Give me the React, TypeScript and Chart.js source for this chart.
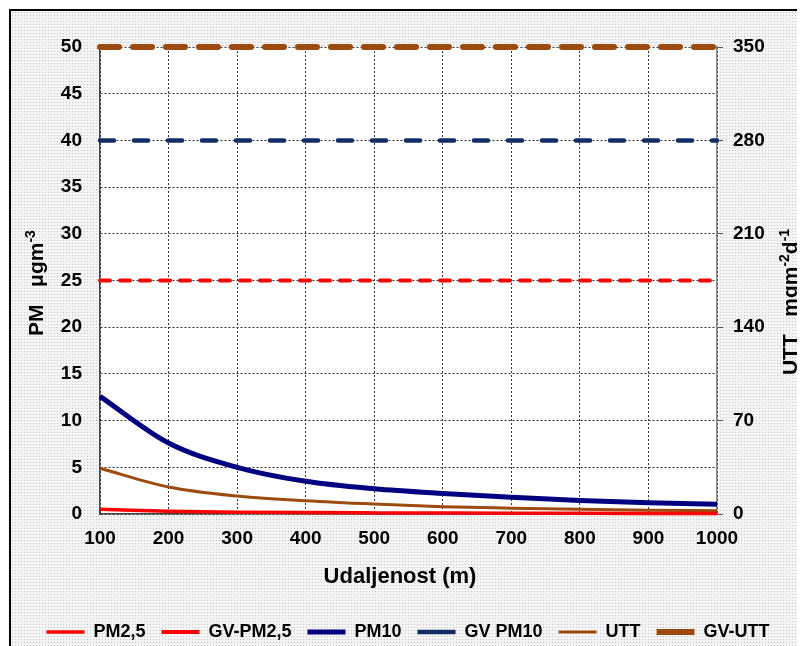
import React, { useEffect, useRef } from 'react';
import { Chart, registerables } from 'chart.js';

Chart.register(...registerables);

// ---- data ----
const distances = [100, 200, 300, 400, 500, 600, 700, 800, 900, 1000];
const pm25 = [0.5, 0.3, 0.2, 0.15, 0.12, 0.1, 0.08, 0.07, 0.06, 0.05];
const pm10 = [12.6, 7.6, 5.0, 3.5, 2.7, 2.2, 1.8, 1.45, 1.2, 1.05];
const utt = [34.3, 20.3, 13.5, 10.0, 7.5, 5.5, 4.4, 3.5, 2.9, 2.5];
const gvPm25 = 25;
const gvPm10 = 40;
const gvUtt = 350;
const seriesLabels = ['PM2,5', 'GV-PM2,5', 'PM10', 'GV PM10', 'UTT', 'GV-UTT'];
const xTitle = 'Udaljenost (m)';
const leftTitle = [{ t: 'PM   \u03bcgm', sup: false }, { t: '-3', sup: true }];
const rightTitle = [
  { t: 'UTT   mgm', sup: false },
  { t: '-2', sup: true },
  { t: 'd', sup: false },
  { t: '-1', sup: true },
];

const RED = '#FF0000';
const NAVY = '#000080';
const DNAVY = '#112C66';
const BROWN = '#9C4A0E';
const FONT = '"Liberation Sans", Arial, sans-serif';

const pts = (ys: number[]) => distances.map((x, i) => ({ x, y: ys[i] }));
const flat = (v: number) => [
  { x: distances[0], y: v },
  { x: distances[distances.length - 1], y: v },
];

function drawRich(ctx: CanvasRenderingContext2D, parts: { t: string; sup: boolean }[], size: number) {
  const main = `bold ${size}px ${FONT}`;
  const sup = `bold ${Math.round(size * 0.65)}px ${FONT}`;
  let total = 0;
  const widths = parts.map((p) => {
    ctx.font = p.sup ? sup : main;
    const w = ctx.measureText(p.t).width;
    total += w;
    return w;
  });
  let x = -total / 2;
  parts.forEach((p, i) => {
    ctx.font = p.sup ? sup : main;
    ctx.fillText(p.t, x, p.sup ? -size * 0.4 : 0);
    x += widths[i];
  });
}

const titlesPlugin = {
  id: 'titles',
  beforeDraw(chart: any) {
    const { ctx, chartArea } = chart;
    ctx.save();
    ctx.fillStyle = '#FFFFFF';
    ctx.fillRect(chartArea.left, chartArea.top, chartArea.right - chartArea.left, chartArea.bottom - chartArea.top);
    ctx.restore();
  },
  afterDraw(chart: any) {
    const { ctx } = chart;
    ctx.save();
    ctx.fillStyle = '#000';
    ctx.textBaseline = 'alphabetic';
    ctx.textAlign = 'left';
    ctx.save();
    ctx.translate(32, 272);
    ctx.rotate(-Math.PI / 2);
    drawRich(ctx, leftTitle, 21);
    ctx.restore();
    ctx.save();
    ctx.translate(786, 291);
    ctx.rotate(-Math.PI / 2);
    drawRich(ctx, rightTitle, 21);
    ctx.restore();
    ctx.font = `bold 22px ${FONT}`;
    ctx.textAlign = 'center';
    ctx.textBaseline = 'middle';
    ctx.fillText(xTitle, 389, 566);
    ctx.restore();
  },
};

export default function App() {
  const ref = useRef<HTMLCanvasElement>(null);
  useEffect(() => {
    document.documentElement.style.overflow = 'hidden';
    document.body.style.overflow = 'hidden';
    if (!ref.current) return;
    Chart.defaults.font.family = FONT;
    const tickFont = { size: 19, weight: 'bold' as const, family: FONT };
    const plain = (v: any) => String(v);
    const chart = new Chart(ref.current, {
      type: 'line',
      data: {
        datasets: [
          { label: seriesLabels[0], data: pts(pm25), borderColor: RED, backgroundColor: RED, borderWidth: 3.5, yAxisID: 'y', cubicInterpolationMode: 'monotone', clip: 10 },
          { label: seriesLabels[1], data: flat(gvPm25), borderColor: RED, backgroundColor: RED, borderWidth: 4, borderDash: [10, 10], borderCapStyle: 'round', yAxisID: 'y', clip: 10 },
          { label: seriesLabels[2], data: pts(pm10), borderColor: NAVY, backgroundColor: NAVY, borderWidth: 5, yAxisID: 'y', cubicInterpolationMode: 'monotone', clip: 10 },
          { label: seriesLabels[3], data: flat(gvPm10), borderColor: DNAVY, backgroundColor: DNAVY, borderWidth: 4.5, borderDash: [14, 20], borderCapStyle: 'round', yAxisID: 'y', clip: 10 },
          { label: seriesLabels[4], data: pts(utt), borderColor: BROWN, backgroundColor: BROWN, borderWidth: 3, yAxisID: 'y1', cubicInterpolationMode: 'monotone', clip: 10 },
          { label: seriesLabels[5], data: flat(gvUtt), borderColor: BROWN, backgroundColor: BROWN, borderWidth: 6, borderDash: [19, 14], borderCapStyle: 'round', yAxisID: 'y1', clip: 10 },
        ] as any,
      },
      options: {
        animation: false,
        responsive: false,
        layout: { padding: { top: 36, bottom: 5, left: 0, right: 0 } },
        elements: { point: { radius: 0, hoverRadius: 0 } },
        plugins: {
          legend: {
            position: 'bottom',
            labels: {
              usePointStyle: true,
              pointStyle: 'line',
              pointStyleWidth: 38,
              padding: 16,
              color: '#000',
              font: { size: 18, weight: 'bold', family: FONT },
            },
          },
          tooltip: { enabled: false },
        },
        scales: {
          x: {
            type: 'linear',
            min: 100,
            max: 1000,
            ticks: { stepSize: 100, autoSkip: false, color: '#000', font: tickFont, padding: 13, maxRotation: 0, callback: plain },
            grid: { color: '#333', lineWidth: 1, drawTicks: false },
            border: { color: '#404040', width: 1.5, dash: [2, 2] },
            afterFit: (s: any) => { s.height = 93; },
          },
          y: {
            position: 'left',
            min: 0,
            max: 50,
            ticks: { stepSize: 5, color: '#000', font: tickFont, padding: 18, callback: plain },
            grid: { color: '#333', lineWidth: 1, drawTicks: false },
            border: { color: '#404040', width: 1.5, dash: [2, 2] },
            afterFit: (s: any) => { s.width = 89; },
          },
          y1: {
            position: 'right',
            min: 0,
            max: 350,
            ticks: { stepSize: 70, color: '#000', font: tickFont, padding: 10, callback: plain },
            grid: { drawOnChartArea: false, drawTicks: true, tickLength: 6, tickColor: '#555', tickWidth: 1 },
            border: { color: '#888', width: 1.5 },
            afterFit: (s: any) => { s.width = 88; },
          },
        },
      } as any,
      plugins: [titlesPlugin],
    });
    return () => chart.destroy();
  }, []);

  return (
    <div
      style={{
        position: 'relative',
        left: 1,
        top: 1,
        width: 800,
        height: 650,
        boxSizing: 'border-box',
        borderLeft: '2px solid #000',
        borderTop: '2px solid #000',
        backgroundColor: '#f4f4f4',
        backgroundImage: 'radial-gradient(#c6c6c6 0.8px, transparent 0.9px)',
        backgroundSize: '3px 3px',
      }}
    >
      <canvas ref={ref} width={794} height={645} style={{ position: 'absolute', left: 0, top: 0, width: 794, height: 645 }} />
    </div>
  );
}
